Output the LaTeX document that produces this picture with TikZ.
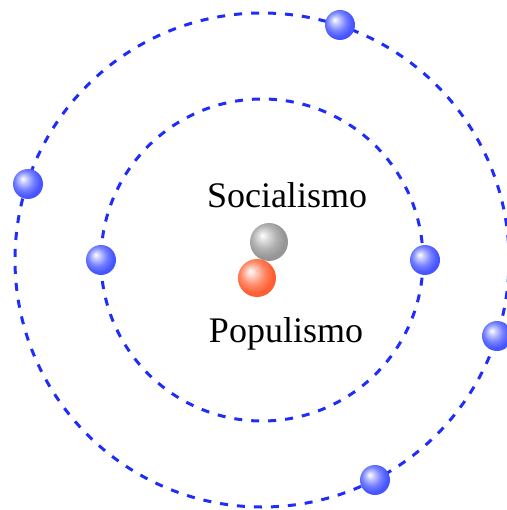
\documentclass[tikz,border=0pt]{standalone}
\usepackage{fontspec}
\setmainfont{Liberation Serif}
\definecolor{orbitblue}{RGB}{30,45,250}
\definecolor{eball}{RGB}{70,85,255}
\definecolor{gball}{RGB}{150,150,150}
\definecolor{pball}{RGB}{255,95,50}
\colorlet{mball}{eball}
\pgfdeclareradialshading[mball]{softball}{\pgfqpoint{-9bp}{9bp}}{%
  color(0bp)=(mball!0!white); color(7bp)=(mball!35!white);
  color(16bp)=(mball!75!white); color(25bp)=(mball); color(50bp)=(mball)}
\begin{document}
\begin{tikzpicture}[x=1pt,y=-1pt,
  mball color/.code={\colorlet{mball}{#1}},
  soft/.style={mball color=#1,shading=softball},
  orbit/.style={draw=orbitblue,line width=3pt,dash pattern=on 8pt off 9pt},
  electron/.style={circle,inner sep=0pt,minimum size=30pt,soft=eball},
  nucleus/.style={circle,inner sep=0pt,minimum size=38pt},
  lbl/.style={font=\fontsize{36}{40}\selectfont,inner sep=0pt,anchor=base}]
\useasboundingbox (0,0) rectangle (506,510);
\coordinate (c) at (262,260);
\draw[orbit] (c) circle[radius=247pt];
\draw[orbit] (c) circle[radius=161pt];
\node[electron] (e1) at (340,25) {};
\node[electron] (e2) at (28,184) {};
\node[electron] (e3) at (497,336) {};
\node[electron] (e4) at (375,480) {};
\node[electron] (e5) at (101,260) {};
\node[electron] (e6) at (425,260) {};
\node[nucleus,soft=gball] (n1) at (269,242) {};
\node[nucleus,soft=pball] (n2) at (257,278) {};
\node[lbl] (t1) at (287,208) {Socialismo};
\node[lbl] (t2) at (286,342) {Populismo};
\end{tikzpicture}
\end{document}
